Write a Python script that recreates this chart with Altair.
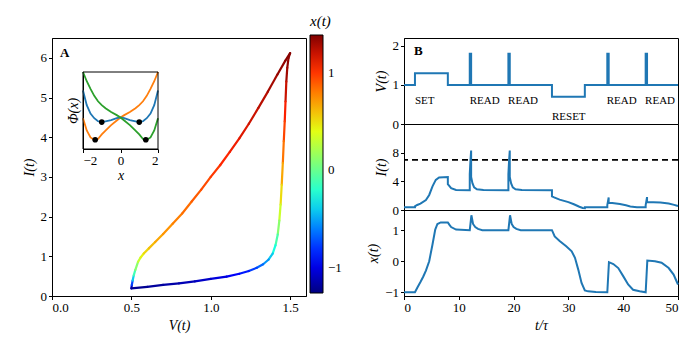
import altair as alt
import pandas as pd

BLUE = "#1f77b4"
ORANGE = "#ff7f0e"
GREEN = "#2ca02c"
FONT = "Liberation Serif"

# ---------------- Panel A: hysteresis loop (V, I, x) ----------------
loop_V = [0.500, 0.503, 0.508, 0.515, 0.525, 0.542, 0.558, 0.578, 0.610, 0.650,
          0.700, 0.760, 0.820, 0.880, 0.940, 1.000, 1.060, 1.120, 1.180, 1.240,
          1.300, 1.360, 1.420, 1.470, 1.500,
          1.490, 1.482, 1.476, 1.471, 1.466, 1.460, 1.454, 1.447, 1.440, 1.432,
          1.422, 1.408, 1.390, 1.365, 1.330, 1.290, 1.240, 1.180, 1.100, 1.000,
          0.900, 0.800, 0.700, 0.600, 0.500]
loop_I = [0.19, 0.28, 0.39, 0.52, 0.66, 0.86, 0.97, 1.07, 1.20, 1.36,
          1.56, 1.82, 2.08, 2.38, 2.68, 3.00, 3.30, 3.63, 3.97, 4.34,
          4.74, 5.15, 5.58, 5.93, 6.12,
          6.00, 5.75, 5.40, 4.90, 4.40, 3.90, 3.35, 2.80, 2.30, 1.90,
          1.55, 1.28, 1.07, 0.92, 0.80, 0.71, 0.63, 0.56, 0.49, 0.43,
          0.37, 0.32, 0.28, 0.23, 0.19]
loop_x = [-1.22, -0.95, -0.55, -0.25, 0.00, 0.22, 0.38, 0.48, 0.57, 0.65,
          0.71, 0.77, 0.82, 0.87, 0.92, 0.97, 1.02, 1.07, 1.12, 1.17,
          1.22, 1.27, 1.32, 1.36, 1.38,
          1.36, 1.33, 1.28, 1.12, 1.02, 0.90, 0.75, 0.60, 0.42, 0.22,
          0.00, -0.18, -0.33, -0.48, -0.60, -0.72, -0.82, -0.91, -0.98, -1.05,
          -1.10, -1.14, -1.17, -1.20, -1.22]

# inset potentials Phi(x)
inset_x = [-2.0, -1.8, -1.6, -1.4, -1.2, -1.0, -0.8, -0.5, -0.2, 0.0,
           0.2, 0.5, 0.8, 1.0, 1.2, 1.4, 1.6, 1.8, 2.0]
phi_blue = [0.76, 0.57, 0.46, 0.40, 0.36, 0.35, 0.36, 0.375, 0.40, 0.41,
            0.40, 0.375, 0.36, 0.35, 0.36, 0.40, 0.46, 0.57, 0.76]
phi_orange = [0.40, 0.24, 0.15, 0.12, 0.13, 0.19, 0.24, 0.31, 0.37, 0.41,
              0.44, 0.48, 0.53, 0.57, 0.62, 0.69, 0.78, 0.88, 1.00]
phi_green = [1.00, 0.88, 0.78, 0.69, 0.62, 0.57, 0.53, 0.48, 0.44, 0.41,
             0.37, 0.31, 0.24, 0.19, 0.13, 0.12, 0.15, 0.24, 0.40]
dot_x = [-1.0, 1.0, -1.35, 1.35]
dot_phi = [0.35, 0.35, 0.12, 0.12]

# ---------------- Panel B: time series ----------------
V_t = [0, 2, 2, 8, 8, 12.0, 12.0, 12.25, 12.25, 19.05, 19.05, 19.3, 19.3, 27, 27,
       33, 33, 37.1, 37.1, 37.35, 37.35, 44.1, 44.1, 44.35, 44.35, 50]
V_v = [1, 1, 1.3, 1.3, 1, 1, 1.8, 1.8, 1, 1, 1.8, 1.8, 1, 1, 0.7,
       0.7, 1, 1, 1.8, 1.8, 1, 1, 1.8, 1.8, 1, 1]

I_t = [0, 2.0, 2.0, 2.4, 3.0, 4.0, 4.6, 5.2, 5.8, 6.4, 8.0, 8.0, 8.6, 9.5,
       12.0, 12.0, 12.12, 12.25, 12.25, 12.5, 12.8, 13.3, 14.5,
       19.05, 19.05, 19.17, 19.3, 19.3, 19.55, 19.85, 20.35, 21.5,
       27.0, 27.0, 27.4, 28.4, 30.0, 31.0, 32.0, 32.6, 33.0, 33.0,
       37.1, 37.1, 37.22, 37.35, 37.35, 38.0, 39.4, 40.5, 41.3, 42.5,
       44.1, 44.1, 44.22, 44.35, 44.35, 45.5, 46.8, 48.3, 49.3, 50.0]
I_v = [0.40, 0.40, 0.52, 0.70, 0.90, 1.40, 2.10, 3.30, 4.20, 4.55, 4.60, 3.60, 3.05, 2.80,
       2.75, 5.00, 6.80, 8.30, 4.60, 3.70, 3.15, 2.90, 2.80,
       2.75, 5.00, 6.80, 8.30, 4.60, 3.70, 3.15, 2.90, 2.80,
       2.75, 1.90, 1.75, 1.45, 1.10, 0.80, 0.45, 0.28, 0.26, 0.38,
       0.38, 0.68, 1.20, 1.75, 1.00, 0.97, 0.85, 0.65, 0.50, 0.40,
       0.38, 0.68, 1.20, 1.80, 1.10, 1.08, 1.05, 0.90, 0.72, 0.55]
I_threshold = [7]

x_t = [0, 2.0, 2.4, 3.0, 3.5, 4.0, 4.6, 5.2, 5.7, 6.1, 6.7, 8.0, 8.3, 8.6, 9.5,
       12.0, 12.3, 12.6, 13.0, 13.5, 14.3, 19.05, 19.35, 19.65, 20.0, 20.5, 21.3,
       27.0, 27.5, 28.4, 29.6, 30.6, 31.2, 31.8, 32.4, 33.0, 33.6, 35.0,
       37.1, 37.4, 38.2, 39.1, 40.0, 40.9, 41.8, 43.0, 44.1,
       44.4, 45.8, 47.0, 48.3, 49.2, 50.0]
x_v = [-1.0, -1.0, -0.86, -0.67, -0.5, -0.3, 0.0, 0.54, 1.02, 1.2, 1.25, 1.25, 1.17, 1.1, 1.02,
       1.0, 1.48, 1.2, 1.1, 1.04, 1.0, 1.0, 1.48, 1.2, 1.1, 1.04, 1.0,
       1.0, 0.8, 0.65, 0.48, 0.32, 0.11, -0.27, -0.7, -0.94, -0.97, -0.99,
       -1.0, -0.03, -0.09, -0.22, -0.48, -0.75, -0.92, -0.97, -1.0,
       0.02, 0.0, -0.05, -0.22, -0.43, -0.75]

label_text = ["SET", "READ", "READ", "RESET", "READ", "READ"]
label_t = [2.0, 12.0, 19.0, 27.0, 37.0, 44.0]
label_v = [0.58, 0.58, 0.58, 0.18, 0.58, 0.58]

jet = ["#000080", "#0000ff", "#0080ff", "#14ffe2", "#7bff7b",
       "#e2ff14", "#ff9700", "#ff2100", "#800000"]

# ---------------- build tables ----------------
n = len(loop_V) - 1
seg = pd.DataFrame({
    "V": loop_V[:-1], "I": loop_I[:-1], "V2": loop_V[1:], "I2": loop_I[1:],
    "x": [(loop_x[i] + loop_x[i + 1]) / 2 for i in range(n)],
})
m = len(inset_x)
inset_df = pd.DataFrame({
    "px": inset_x * 3,
    "py": phi_orange + phi_blue + phi_green,
    "curve": ["b"] * m + ["a"] * m + ["c"] * m,
})
dots_df = pd.DataFrame({"px": dot_x, "py": dot_phi})
one = pd.DataFrame({"a": [0]})

W_L, H_L = 254, 258
W_R, H_R = 274, 86

loop = alt.Chart(seg).mark_rule(strokeWidth=2.2, strokeCap="round").encode(
    x=alt.X("V:Q", scale=alt.Scale(domain=[0, 1.6], nice=False, zero=False),
            axis=alt.Axis(values=[0, 0.5, 1.0, 1.5], format=".1f", title="V(t)", orient="bottom")),
    x2="V2",
    y=alt.Y("I:Q", scale=alt.Scale(domain=[0, 6.5], nice=False, zero=False),
            axis=alt.Axis(values=[0, 1, 2, 3, 4, 5, 6], title="I(t)", orient="left")),
    y2="I2",
    color=alt.Color("x:Q",
                    scale=alt.Scale(domain=[-1.26, 1.39], range=jet, interpolate="rgb"),
                    legend=alt.Legend(title="x(t)", orient="none", legendX=W_L + 4, legendY=-24,
                                      direction="vertical", gradientLength=H_L,
                                      gradientThickness=13, values=[-1, 0, 1], format=".0f",
                                      gradientStrokeColor="black", gradientStrokeWidth=1,
                                      titleFontSize=15, titleFontStyle="italic",
                                      titleFontWeight="normal", titleFont=FONT,
                                      labelFont=FONT, labelFontSize=13, titleAnchor="start",
                                      titlePadding=6, labelOffset=5)),
)

ix = alt.X("px:Q", scale=alt.Scale(domain=[-2, 2], range=[31, 106], nice=False, zero=False),
           axis=alt.Axis(orient="bottom", offset=-147, values=[-2, 0, 2], title="x",
                         titlePadding=1))
iy = alt.Y("py:Q", scale=alt.Scale(domain=[0, 1], range=[111, 34], nice=False, zero=False),
           axis=alt.Axis(orient="left", offset=-31, labels=False, ticks=False,
                         title="Φ(x)", titlePadding=3))
curves = alt.Chart(inset_df).mark_line(strokeWidth=1.8).encode(
    x=ix, y=iy,
    stroke=alt.Stroke("curve:N", scale=alt.Scale(domain=["a", "b", "c"],
                                                 range=[BLUE, ORANGE, GREEN]), legend=None),
)
dots = alt.Chart(dots_df).mark_circle(size=32, color="black", opacity=1).encode(x=ix, y=iy)
frame = alt.Chart(one).mark_rect(fillOpacity=0, stroke="black", strokeWidth=1).encode(
    x=alt.value(31), x2=alt.value(106), y=alt.value(34), y2=alt.value(111))
inset = alt.layer(curves, dots, frame)

textA = alt.Chart(one).mark_text(text="A", fontWeight="bold", fontSize=13, font=FONT,
                                 align="left", baseline="top").encode(
    x=alt.value(8), y=alt.value(9))

left = alt.layer(loop, inset, textA).resolve_scale(x="independent", y="independent").properties(
    width=W_L, height=H_L)

# right
tx_none = alt.X("t:Q", scale=alt.Scale(domain=[0, 50], nice=False, zero=False), axis=None)
vdf = pd.DataFrame({"t": V_t, "V": V_v})
ldf = pd.DataFrame({"t": label_t, "V": label_v, "label": label_text})
vy = alt.Y("V:Q", scale=alt.Scale(domain=[0, 2.2], nice=False, zero=False),
           axis=alt.Axis(values=[0, 1, 2], title="V(t)"))
vline = alt.Chart(vdf).mark_line(color=BLUE, strokeWidth=2).encode(x=tx_none, y=vy)
vlabels = alt.Chart(ldf).mark_text(font=FONT, fontSize=11, align="left",
                                   baseline="middle", color="black").encode(
    x=tx_none, y=vy, text="label:N")
textB = alt.Chart(one).mark_text(text="B", fontWeight="bold", fontSize=13, font=FONT,
                                 align="left", baseline="top").encode(
    x=alt.value(10), y=alt.value(7))
top = alt.layer(vline, vlabels, textB).properties(width=W_R, height=H_R)

idf = pd.DataFrame({"t": I_t, "I": I_v})
iy2 = alt.Y("I:Q", scale=alt.Scale(domain=[0, 12], nice=False, zero=False),
            axis=alt.Axis(values=[0, 4, 8], title="I(t)"))
iline = alt.Chart(idf).mark_line(color=BLUE, strokeWidth=2).encode(x=tx_none, y=iy2)
thr = alt.Chart(pd.DataFrame({"I": I_threshold})).mark_rule(
    color="black", strokeDash=[6, 4], strokeWidth=1.8).encode(y=iy2)
mid = alt.layer(iline, thr).properties(width=W_R, height=H_R)

xdf = pd.DataFrame({"t": x_t, "x": x_v})
bot = alt.Chart(xdf).mark_line(color=BLUE, strokeWidth=2).encode(
    x=alt.X("t:Q", scale=alt.Scale(domain=[0, 50], nice=False, zero=False),
            axis=alt.Axis(values=[0, 10, 20, 30, 40, 50], title="t/τ")),
    y=alt.Y("x:Q", scale=alt.Scale(domain=[-1.12, 1.65], nice=False, zero=False),
            axis=alt.Axis(values=[-1, 0, 1], title="x(t)")),
).properties(width=W_R, height=H_R)

right = alt.vconcat(top, mid, bot, spacing=0, bounds="flush")

chart = alt.hconcat(left, right, spacing=98, bounds="flush").resolve_legend(
    color="independent").properties(padding={"left": 13, "top": 5, "right": 5, "bottom": 5}
).configure(font=FONT).configure_view(stroke="black", strokeWidth=1).configure_axis(
    domainColor="black", tickColor="black", labelColor="black", titleColor="black",
    grid=False, labelFont=FONT, titleFont=FONT, labelFontSize=13, titleFontSize=14,
    titleFontWeight="normal", titleFontStyle="italic", tickSize=3.5, labelPadding=2,
)

chart.save("out.html", embed_options={"renderer": "svg", "actions": False})
